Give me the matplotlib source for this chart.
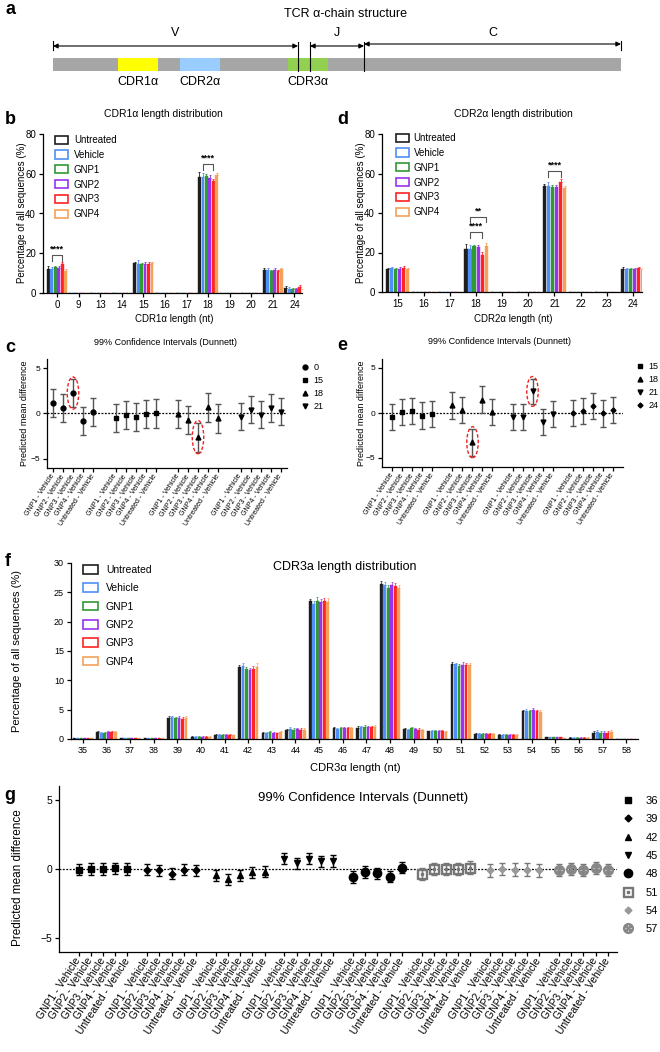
import matplotlib
matplotlib.use('Agg')
import matplotlib.pyplot as plt
import numpy as np
from matplotlib.patches import Patch, Rectangle, Ellipse
from matplotlib.lines import Line2D

plt.rcParams['font.family'] = ['Liberation Sans', 'DejaVu Sans']
plt.rcParams['axes.linewidth'] = 0.9
plt.rcParams['xtick.major.width'] = 0.9
plt.rcParams['ytick.major.width'] = 0.9
plt.rcParams['xtick.major.size'] = 3
plt.rcParams['ytick.major.size'] = 3

W, H = 660, 1052

groups = ['Untreated', 'Vehicle', 'GNP1', 'GNP2', 'GNP3', 'GNP4']
group_colors = ['#1e1e1e', '#4f8ff7', '#2f9a32', '#9a33ee', '#ff2323', '#f4a25a']
comparisons = ['GNP1 - Vehicle', 'GNP2 - Vehicle', 'GNP3 - Vehicle',
               'GNP4 - Vehicle', 'Untreated - Vehicle']

# a: TCR alpha chain schematic (layout in figure pixels)
chain_span = (53, 621)
region_names = ['V', 'J', 'C']
region_start = [53, 310, 364]
region_end = [298, 364, 621]
cdr_names = ['CDR1α', 'CDR2α', 'CDR3α']
cdr_start = [118, 180, 288]
cdr_end = [158, 220, 328]
cdr_colors = ['#ffff00', '#99ccff', '#92d050']

# b: CDR1a length distribution (% of sequences), rows = groups
cdr1_lengths = ['0', '9', '13', '14', '15', '16', '17', '18', '19', '20', '21', '24']
cdr1_pct = [
    [12.0, 0, 0, 0, 15.2, 0, 0, 58.3, 0, 0, 11.6, 2.4],
    [11.9, 0, 0, 0, 14.6, 0, 0, 58.4, 0, 0, 11.5, 2.2],
    [12.9, 0, 0, 0, 14.5, 0, 0, 58.7, 0, 0, 11.1, 2.0],
    [12.4, 0, 0, 0, 14.8, 0, 0, 58.1, 0, 0, 11.7, 2.0],
    [14.5, 0, 0, 0, 14.6, 0, 0, 56.5, 0, 0, 11.1, 3.0],
    [11.1, 0, 0, 0, 15.1, 0, 0, 59.3, 0, 0, 11.9, 1.8],
]
cdr1_err = [
    [1.6, 0, 0, 0, 0.6, 0, 0, 2.4, 0, 0, 0.8, 1.2],
    [1.4, 0, 0, 0, 1.8, 0, 0, 2.0, 0, 0, 1.0, 1.0],
    [0.8, 0, 0, 0, 0.5, 0, 0, 1.0, 0, 0, 0.6, 0.4],
    [1.0, 0, 0, 0, 0.6, 0, 0, 1.3, 0, 0, 0.8, 0.6],
    [1.2, 0, 0, 0, 0.9, 0, 0, 0.9, 0, 0, 0.7, 1.2],
    [1.0, 0, 0, 0, 0.7, 0, 0, 1.3, 0, 0, 0.7, 0.4],
]
cdr1_sig_len = ['0', '18']
cdr1_sig_pair = [('Vehicle', 'GNP3'), ('Vehicle', 'GNP3')]
cdr1_sig_text = ['****', '****']
cdr1_sig_level = [19.2, 64.9]

# d: CDR2a length distribution
cdr2_lengths = ['15', '16', '17', '18', '19', '20', '21', '22', '23', '24']
cdr2_pct = [
    [11.6, 0, 0, 21.9, 0, 0, 53.5, 0, 0, 11.6],
    [12.0, 0, 0, 21.9, 0, 0, 53.7, 0, 0, 11.4],
    [11.6, 0, 0, 23.1, 0, 0, 53.4, 0, 0, 11.4],
    [11.8, 0, 0, 22.6, 0, 0, 53.4, 0, 0, 11.6],
    [12.0, 0, 0, 18.7, 0, 0, 55.9, 0, 0, 12.0],
    [11.4, 0, 0, 23.4, 0, 0, 52.9, 0, 0, 11.4],
]
cdr2_err = [
    [0.8, 0, 0, 2.6, 0, 0, 1.4, 0, 0, 1.0],
    [0.8, 0, 0, 1.8, 0, 0, 2.0, 0, 0, 0.8],
    [0.5, 0, 0, 0.8, 0, 0, 0.8, 0, 0, 0.8],
    [0.7, 0, 0, 1.0, 0, 0, 1.0, 0, 0, 0.8],
    [1.0, 0, 0, 1.6, 0, 0, 1.2, 0, 0, 0.7],
    [0.6, 0, 0, 1.2, 0, 0, 1.0, 0, 0, 0.8],
]
cdr2_sig_len = ['18', '18', '21']
cdr2_sig_pair = [('Vehicle', 'GNP3'), ('Vehicle', 'GNP4'), ('Vehicle', 'GNP3')]
cdr2_sig_text = ['****', '**', '****']
cdr2_sig_level = [30.3, 38.2, 61.3]

# c: Dunnett 99% CI, CDR1a lengths
c_lengths = ['0', '15', '18', '21']
c_mean = [
    [1.2, 0.65, 2.25, -0.8, 0.15],
    [-0.5, -0.2, -0.35, -0.1, 0.0],
    [-0.1, -0.7, -2.6, 0.7, -0.55],
    [-0.35, 0.4, -0.15, 0.6, 0.2],
]
c_ci = [
    [1.55, 1.55, 1.55, 1.55, 1.55],
    [1.55, 1.55, 1.55, 1.55, 1.55],
    [1.55, 1.55, 1.6, 1.6, 1.55],
    [1.5, 1.5, 1.5, 1.5, 1.5],
]
c_circled = [(0, 2), (2, 2)]

# e: Dunnett 99% CI, CDR2a lengths
e_lengths = ['15', '18', '21', '24']
e_mean = [
    [-0.45, 0.1, 0.2, -0.3, -0.1],
    [0.85, 0.3, -3.25, 1.5, 0.1],
    [-0.4, -0.45, 2.4, -0.95, -0.1],
    [0.0, 0.25, 0.8, -0.05, 0.3],
]
e_ci = [
    [1.47, 1.47, 1.47, 1.47, 1.47],
    [1.47, 1.45, 1.5, 1.47, 1.45],
    [1.45, 1.45, 1.43, 1.45, 1.45],
    [1.45, 1.45, 1.45, 1.45, 1.45],
]
e_circled = [(1, 2), (2, 2)]

# f: CDR3a length distribution
cdr3_lengths = [str(n) for n in range(35, 59)]
cdr3_pct = [
    [0.1, 1.2, 0.15, 0.2, 3.6, 0.4, 0.7, 12.2, 1.1, 1.5, 23.5, 1.8, 1.9, 26.5, 1.7, 1.3, 12.8, 0.9, 0.7, 4.7, 0.3, 0.25, 1.1, 0.05],
    [0.1, 1.1, 0.15, 0.2, 3.7, 0.4, 0.7, 12.4, 1.1, 1.7, 23.0, 1.7, 2.0, 26.3, 1.5, 1.3, 12.7, 0.9, 0.7, 4.8, 0.3, 0.25, 1.2, 0.05],
    [0.1, 1.1, 0.15, 0.2, 3.6, 0.4, 0.7, 12.0, 1.2, 1.6, 23.6, 1.8, 2.1, 25.8, 1.8, 1.4, 12.4, 0.9, 0.7, 4.7, 0.3, 0.25, 1.1, 0.05],
    [0.1, 1.2, 0.15, 0.2, 3.6, 0.4, 0.7, 11.7, 1.1, 1.7, 23.3, 1.8, 2.0, 26.2, 1.7, 1.4, 12.6, 0.9, 0.7, 4.9, 0.3, 0.25, 1.1, 0.05],
    [0.1, 1.2, 0.15, 0.2, 3.4, 0.4, 0.7, 12.0, 1.0, 1.6, 23.6, 1.8, 2.1, 26.0, 1.6, 1.3, 12.6, 0.9, 0.7, 4.7, 0.3, 0.25, 1.1, 0.05],
    [0.1, 1.2, 0.15, 0.2, 3.6, 0.4, 0.6, 12.2, 1.2, 1.6, 23.4, 1.8, 2.1, 25.8, 1.5, 1.2, 12.6, 0.9, 0.7, 4.6, 0.2, 0.25, 1.2, 0.05],
]
cdr3_err = [
    [0.02, 0.1, 0.03, 0.03, 0.3, 0.1, 0.1, 0.4, 0.1, 0.2, 0.4, 0.2, 0.3, 0.5, 0.2, 0.1, 0.3, 0.1, 0.1, 0.3, 0.05, 0.05, 0.2, 0.02],
    [0.02, 0.1, 0.03, 0.03, 0.3, 0.1, 0.1, 0.6, 0.1, 0.4, 0.5, 0.2, 0.2, 0.4, 0.2, 0.2, 0.3, 0.1, 0.1, 0.3, 0.05, 0.05, 0.3, 0.02],
    [0.02, 0.1, 0.03, 0.03, 0.2, 0.1, 0.1, 0.3, 0.1, 0.2, 0.6, 0.2, 0.3, 0.4, 0.2, 0.2, 0.3, 0.1, 0.1, 0.3, 0.05, 0.05, 0.2, 0.02],
    [0.02, 0.1, 0.03, 0.03, 0.3, 0.1, 0.1, 0.4, 0.1, 0.2, 0.5, 0.2, 0.2, 0.5, 0.2, 0.2, 0.5, 0.1, 0.1, 0.3, 0.05, 0.05, 0.2, 0.02],
    [0.02, 0.1, 0.03, 0.03, 0.3, 0.1, 0.1, 0.4, 0.1, 0.2, 0.5, 0.2, 0.2, 0.6, 0.2, 0.2, 0.4, 0.1, 0.1, 0.3, 0.05, 0.05, 0.2, 0.02],
    [0.02, 0.1, 0.03, 0.03, 0.3, 0.1, 0.1, 0.7, 0.1, 0.2, 0.6, 0.2, 0.3, 0.5, 0.2, 0.2, 0.4, 0.1, 0.1, 0.3, 0.05, 0.05, 0.3, 0.02],
]

# g: Dunnett 99% CI, CDR3a lengths
g_lengths = ['36', '39', '42', '45', '48', '51', '54', '57']
g_mean = [
    [-0.05, 0.0, 0.0, 0.05, 0.0],
    [-0.05, -0.1, -0.35, -0.05, -0.1],
    [-0.45, -0.75, -0.45, -0.25, -0.2],
    [0.75, 0.4, 0.75, 0.55, 0.6],
    [-0.6, -0.2, -0.3, -0.55, 0.1],
    [-0.35, 0.0, 0.0, 0.0, 0.1],
    [-0.1, 0.0, -0.05, -0.05, -0.1],
    [-0.05, 0.0, -0.05, 0.05, -0.05],
]
g_ci = [
    [0.4, 0.4, 0.4, 0.4, 0.4],
    [0.4, 0.4, 0.4, 0.4, 0.4],
    [0.4, 0.4, 0.4, 0.4, 0.4],
    [0.42, 0.4, 0.42, 0.4, 0.42],
    [0.42, 0.42, 0.4, 0.42, 0.42],
    [0.45, 0.45, 0.45, 0.45, 0.45],
    [0.45, 0.45, 0.45, 0.45, 0.45],
    [0.42, 0.42, 0.42, 0.42, 0.42],
]

fig = plt.figure(figsize=(W / 100, H / 100), dpi=100)


def add_ax(x0, y0, x1, y1):
    return fig.add_axes([x0 / W, 1 - y1 / H, (x1 - x0) / W, (y1 - y0) / H])


def ftext(x, y, s, **kw):
    fig.text(x / W, 1 - y / H, s, **kw)


def style(ax, fs):
    ax.spines['top'].set_visible(False)
    ax.spines['right'].set_visible(False)
    ax.tick_params(labelsize=fs, direction='out', pad=2)


# ---------- a ----------
ax = fig.add_axes([0, 1 - 100 / H, 1, 100 / H])
ax.set_xlim(0, W)
ax.set_ylim(100, 0)
ax.axis('off')
ax.add_patch(Rectangle((chain_span[0], 58), chain_span[1] - chain_span[0], 13, fc='#a6a6a6', ec='none'))
for s, e, c, n in zip(cdr_start, cdr_end, cdr_colors, cdr_names):
    ax.add_patch(Rectangle((s, 58), e - s, 13, fc=c, ec='none'))
    ax.text((s + e) / 2, 82, n, ha='center', va='center', fontsize=9)
for i, (s, e, n) in enumerate(zip(region_start, region_end, region_names)):
    y = 44 if n == 'C' else 46
    ax.annotate('', xy=(e, y), xytext=(s, y),
                arrowprops=dict(arrowstyle='<|-|>', color='black', lw=0.8,
                                shrinkA=0, shrinkB=0, mutation_scale=7))
    ax.text((s + e) / 2, 33, n, ha='center', va='center', fontsize=9)
for xv in [region_end[0], region_start[1], region_end[1]]:
    ax.plot([xv, xv], [42, 71], color='black', lw=0.8)
for xv in [region_start[0], region_end[2]]:
    ax.plot([xv, xv], [41, 50], color='black', lw=0.8)
ftext(345, 14, 'TCR α-chain structure', ha='center', va='center', fontsize=9)


# ---------- bar panels ----------
def bar_panel(ax, cats, pct, err, step, width, lw_err=0.6):
    x = np.arange(len(cats))
    for i, (vals, errs, c) in enumerate(zip(pct, err, group_colors)):
        pos = x + (i - 2.5) * step
        vals = np.array(vals, dtype=float)
        errs = np.array(errs, dtype=float)
        ax.bar(pos, vals, width, color=c, edgecolor=c, lw=0.3)
        m = vals > 0
        ax.errorbar(pos[m], vals[m], yerr=[np.zeros(m.sum()), errs[m]], fmt='none',
                    ecolor=c, elinewidth=lw_err, capsize=1, capthick=lw_err)
    ax.set_xticks(x, cats)
    return x


def brackets(ax, cats, lens, pairs, texts, levels, step, drop, fs):
    for ln, (g0, g1), t, lv in zip(lens, pairs, texts, levels):
        ci = cats.index(ln)
        x0 = ci + (groups.index(g0) - 2.5) * step
        x1 = ci + (groups.index(g1) - 2.5) * step
        ax.plot([x0, x0, x1, x1], [lv - drop, lv, lv, lv - drop], color='#555555', lw=0.8)
        ax.text((x0 + x1) / 2, lv + 0.6, t, ha='center', va='bottom', fontsize=fs, fontweight='bold')


def bar_legend(ax, x, y, fs, hl, tp, ls):
    handles = [Patch(facecolor='none', edgecolor=c, lw=1.2) for c in group_colors]
    ax.legend(handles, groups, loc='upper left', bbox_to_anchor=(x / W, 1 - y / H),
              bbox_transform=fig.transFigure, frameon=False, fontsize=fs,
              handlelength=hl, handleheight=0.9, handletextpad=tp, labelspacing=ls,
              borderpad=0, borderaxespad=0)


# b
ax_b = add_ax(43, 134, 302, 293)
style(ax_b, 7)
bar_panel(ax_b, cdr1_lengths, cdr1_pct, cdr1_err, 0.16, 0.13)
brackets(ax_b, cdr1_lengths, cdr1_sig_len, cdr1_sig_pair, cdr1_sig_text, cdr1_sig_level, 0.16, 3, 6.5)
ax_b.set_ylim(0, 80)
ax_b.set_yticks([0, 20, 40, 60, 80])
ax_b.set_xlim(-0.65, 11.35)
bar_legend(ax_b, 55, 135, 7, 1.35, 0.6, 0.5)
ftext(163, 114, 'CDR1α length distribution', ha='center', va='center', fontsize=7.5)
ftext(174, 319, 'CDR1α length (nt)', ha='center', va='center', fontsize=7)
ftext(22, 213, 'Percentage of all sequences (%)', ha='center', va='center', rotation=90, fontsize=7)

# d
ax_d = add_ax(382, 134, 642, 292)
style(ax_d, 7)
bar_panel(ax_d, cdr2_lengths, cdr2_pct, cdr2_err, 0.155, 0.12)
brackets(ax_d, cdr2_lengths, cdr2_sig_len, cdr2_sig_pair, cdr2_sig_text, cdr2_sig_level, 0.155, 3, 6.5)
ax_d.set_ylim(0, 80)
ax_d.set_yticks([0, 20, 40, 60, 80])
ax_d.set_xlim(-0.6, 9.35)
bar_legend(ax_d, 396, 133, 7, 1.3, 0.5, 0.5)
ftext(513, 114, 'CDR2α length distribution', ha='center', va='center', fontsize=7.5)
ftext(513, 319, 'CDR2α length (nt)', ha='center', va='center', fontsize=7)
ftext(361, 213, 'Percentage of all sequences (%)', ha='center', va='center', rotation=90, fontsize=7)


# ---------- CI panels ----------
def ci_panel(ax, means, cis, spacing, markers, msizes, mcolors, ecolors, fs_lab, rot, cap):
    xs_all = []
    for g, (m, ci) in enumerate(zip(means, cis)):
        xs = g * spacing + np.arange(len(m))
        xs_all.extend(xs)
        ax.errorbar(xs, m, yerr=ci, fmt='none', ecolor=ecolors[g], elinewidth=1.0,
                    capsize=cap, capthick=1.0, zorder=2)
        ax.plot(xs, m, ls='none', marker=markers[g], ms=msizes[g], color=mcolors[g], zorder=3)
    ax.axhline(0, color='black', lw=0.9, ls=(0, (1.5, 1.2)), zorder=1)
    ax.set_xticks(xs_all, comparisons * len(means), rotation=rot, ha='right', va='center',
                  rotation_mode='anchor', fontsize=fs_lab)
    ax.set_ylim(-6, 6)
    ax.set_yticks([-5, 0, 5])
    return xs_all


def circle_points(ax, means, cis, spacing, pts):
    for g, i in pts:
        ax.add_patch(Ellipse((g * spacing + i, means[g][i]), 1.15, 2 * cis[g][i] + 0.45,
                             fill=False, ec='#ee2222', ls=(0, (2.5, 1.5)), lw=1.0, zorder=4))


def ci_legend(ax, labels, markers, msizes, mcolors, x, y, fs, tp, ls):
    handles = [Line2D([], [], ls='none', marker=mk, ms=s, color=c) for mk, s, c in zip(markers, msizes, mcolors)]
    ax.legend(handles, labels, loc='upper left', bbox_to_anchor=(x / W, 1 - y / H),
              bbox_transform=fig.transFigure, frameon=False, fontsize=fs,
              handlelength=1.0, handletextpad=tp, labelspacing=ls, borderpad=0, borderaxespad=0)


# c
ax_c = add_ax(47, 359, 287, 468)
style(ax_c, 6)
c_markers = ['o', 's', '^', 'v']
c_ms = [3.5, 3.5, 3.5, 3.5]
ci_panel(ax_c, c_mean, c_ci, 6.25, c_markers, c_ms, ['black'] * 4, ['#555555'] * 4, 5, 57, 2.5)
circle_points(ax_c, c_mean, c_ci, 6.25, c_circled)
ax_c.set_xlim(-0.6, 23.4)
ci_legend(ax_c, c_lengths, c_markers, c_ms, ['black'] * 4, 300, 363, 6.5, 0.5, 0.45)
ftext(166, 342, '99% Confidence Intervals (Dunnett)', ha='center', va='center', fontsize=6.5)
ftext(25, 413, 'Predicted mean difference', ha='center', va='center', rotation=90, fontsize=6.5)

# e
ax_e = add_ax(382, 359, 623, 467)
style(ax_e, 6)
e_markers = ['s', '^', 'v', 'D']
e_ms = [3.5, 3.5, 3.5, 2.5]
ci_panel(ax_e, e_mean, e_ci, 6.0, e_markers, e_ms, ['black'] * 4, ['#555555'] * 4, 5, 57, 2.5)
circle_points(ax_e, e_mean, e_ci, 6.0, e_circled)
ax_e.set_xlim(-1.05, 23.05)
ci_legend(ax_e, e_lengths, e_markers, e_ms, ['black'] * 4, 635, 362, 6.5, 0.5, 0.45)
ftext(500, 341, '99% Confidence Intervals (Dunnett)', ha='center', va='center', fontsize=6.5)
ftext(362, 413, 'Predicted mean difference', ha='center', va='center', rotation=90, fontsize=6.5)

# f
ax_f = add_ax(71, 563, 638, 739)
style(ax_f, 6.5)
bar_panel(ax_f, cdr3_lengths, cdr3_pct, cdr3_err, 0.148, 0.12, lw_err=0.5)
ax_f.set_ylim(0, 30)
ax_f.set_yticks(range(0, 31, 5))
ax_f.set_xlim(-0.5, 23.5)
bar_legend(ax_f, 83, 565, 7.5, 1.45, 0.75, 0.8)
ftext(345, 567, 'CDR3a length distribution', ha='center', va='center', fontsize=9)
ftext(355, 768, 'CDR3α length (nt)', ha='center', va='center', fontsize=8)
ftext(17, 651, 'Percentage of all sequences (%)', ha='center', va='center', rotation=90, fontsize=8)

# g
ax_g = add_ax(59, 786, 617, 952)
style(ax_g, 7.5)
g_markers = ['s', 'D', '^', 'v', 'o', r'$\boxdot$', 'D', r'$\otimes$']
g_ms = [5, 3.5, 5, 5, 6, 7, 3.5, 7]
g_mcolors = ['black'] * 5 + ['#777777', '#999999', '#888888']
g_ecolors = ['black'] * 5 + ['#777777'] * 3
ci_panel(ax_g, g_mean, g_ci, 5.62, g_markers, g_ms, g_mcolors, g_ecolors, 7.5, 57, 2.5)
ax_g.set_xlim(-1.6, 44.1)
ci_legend(ax_g, g_lengths, g_markers, g_ms, g_mcolors, 622, 796, 8, 1.1, 0.75)
ftext(363, 798, '99% Confidence Intervals (Dunnett)', ha='center', va='center', fontsize=9.5)
ftext(18, 878, 'Predicted mean difference', ha='center', va='center', rotation=90, fontsize=8.5)

# panel letters
for lt, x, y in [('a', 5, 10), ('b', 5, 120), ('d', 337, 120), ('c', 5, 348),
                 ('e', 337, 346), ('f', 5, 562), ('g', 4, 795)]:
    ftext(x, y, lt, ha='left', va='center', fontsize=13, fontweight='bold')

fig.savefig('out.png', dpi=100)
